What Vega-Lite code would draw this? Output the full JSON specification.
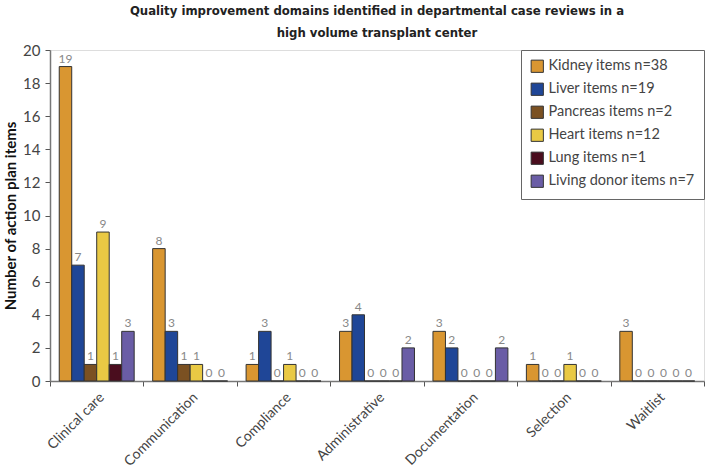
{
  "$schema": "https://vega.github.io/schema/vega-lite/v6.json",
  "width": 654,
  "height": 331,
  "autosize": {"type": "none"},
  "padding": {"left": 50, "top": 50, "right": 1, "bottom": 90},
  "background": "white",
  "title": {
    "text": ["Quality improvement domains identified in departmental case reviews in a", "high volume transplant center"],
    "anchor": "middle",
    "frame": "group",
    "font": "'Liberation Sans Narrow', 'DejaVu Sans Condensed', sans-serif",
    "fontSize": 13,
    "fontWeight": "bold",
    "color": "#222",
    "lineHeight": 22,
    "offset": 3
  },
  "data": {
    "values": [
      {"domain": "Clinical care", "organ": "Kidney items n=38", "n": 19},
      {"domain": "Clinical care", "organ": "Liver items n=19", "n": 7},
      {"domain": "Clinical care", "organ": "Pancreas items n=2", "n": 1},
      {"domain": "Clinical care", "organ": "Heart items n=12", "n": 9},
      {"domain": "Clinical care", "organ": "Lung items n=1", "n": 1},
      {"domain": "Clinical care", "organ": "Living donor items n=7", "n": 3},
      {"domain": "Communication", "organ": "Kidney items n=38", "n": 8},
      {"domain": "Communication", "organ": "Liver items n=19", "n": 3},
      {"domain": "Communication", "organ": "Pancreas items n=2", "n": 1},
      {"domain": "Communication", "organ": "Heart items n=12", "n": 1},
      {"domain": "Communication", "organ": "Lung items n=1", "n": 0},
      {"domain": "Communication", "organ": "Living donor items n=7", "n": 0},
      {"domain": "Compliance", "organ": "Kidney items n=38", "n": 1},
      {"domain": "Compliance", "organ": "Liver items n=19", "n": 3},
      {"domain": "Compliance", "organ": "Pancreas items n=2", "n": 0},
      {"domain": "Compliance", "organ": "Heart items n=12", "n": 1},
      {"domain": "Compliance", "organ": "Lung items n=1", "n": 0},
      {"domain": "Compliance", "organ": "Living donor items n=7", "n": 0},
      {"domain": "Administrative", "organ": "Kidney items n=38", "n": 3},
      {"domain": "Administrative", "organ": "Liver items n=19", "n": 4},
      {"domain": "Administrative", "organ": "Pancreas items n=2", "n": 0},
      {"domain": "Administrative", "organ": "Heart items n=12", "n": 0},
      {"domain": "Administrative", "organ": "Lung items n=1", "n": 0},
      {"domain": "Administrative", "organ": "Living donor items n=7", "n": 2},
      {"domain": "Documentation", "organ": "Kidney items n=38", "n": 3},
      {"domain": "Documentation", "organ": "Liver items n=19", "n": 2},
      {"domain": "Documentation", "organ": "Pancreas items n=2", "n": 0},
      {"domain": "Documentation", "organ": "Heart items n=12", "n": 0},
      {"domain": "Documentation", "organ": "Lung items n=1", "n": 0},
      {"domain": "Documentation", "organ": "Living donor items n=7", "n": 2},
      {"domain": "Selection", "organ": "Kidney items n=38", "n": 1},
      {"domain": "Selection", "organ": "Liver items n=19", "n": 0},
      {"domain": "Selection", "organ": "Pancreas items n=2", "n": 0},
      {"domain": "Selection", "organ": "Heart items n=12", "n": 1},
      {"domain": "Selection", "organ": "Lung items n=1", "n": 0},
      {"domain": "Selection", "organ": "Living donor items n=7", "n": 0},
      {"domain": "Waitlist", "organ": "Kidney items n=38", "n": 3},
      {"domain": "Waitlist", "organ": "Liver items n=19", "n": 0},
      {"domain": "Waitlist", "organ": "Pancreas items n=2", "n": 0},
      {"domain": "Waitlist", "organ": "Heart items n=12", "n": 0},
      {"domain": "Waitlist", "organ": "Lung items n=1", "n": 0},
      {"domain": "Waitlist", "organ": "Living donor items n=7", "n": 0}
    ]
  },
  "encoding": {
    "x": {
      "field": "domain",
      "type": "nominal",
      "sort": ["Clinical care", "Communication", "Compliance", "Administrative", "Documentation", "Selection", "Waitlist"],
      "scale": {"paddingInner": 0, "paddingOuter": 0},
      "axis": {
        "title": null,
        "labelAngle": -45,
        "labelAlign": "right",
        "labelBaseline": "top",
        "labelFont": "Lato",
        "labelFontWeight": "normal",
        "labelFontSize": 14,
        "labelColor": "#444",
        "labelPadding": 4,
        "tickBand": "extent",
        "tickSize": 5,
        "tickColor": "#555",
        "domainColor": "#777",
        "domainWidth": 1.5,
        "grid": false
      }
    },
    "xOffset": {
      "field": "organ",
      "type": "nominal",
      "sort": ["Kidney items n=38", "Liver items n=19", "Pancreas items n=2", "Heart items n=12", "Lung items n=1", "Living donor items n=7"],
      "scale": {"paddingInner": 0, "paddingOuter": 0.74}
    },
    "y": {
      "field": "n",
      "type": "quantitative",
      "scale": {"domain": [0, 20]},
      "axis": {
        "title": "Number of action plan items",
        "titleFont": "Lato",
        "titleFontSize": 15,
        "titleFontWeight": "bold",
        "titleColor": "#111",
        "titlePadding": 4,
        "values": [0, 2, 4, 6, 8, 10, 12, 14, 16, 18, 20],
        "labelFont": "Lato",
        "labelFontWeight": "normal",
        "labelFontSize": 15,
        "labelColor": "#444",
        "labelPadding": 5,
        "tickSize": 5,
        "tickColor": "#555",
        "domainColor": "#777",
        "domainWidth": 1.5,
        "grid": false
      }
    }
  },
  "layer": [
    {
      "mark": {"type": "bar", "stroke": "#333", "strokeWidth": 1},
      "encoding": {
        "color": {
          "field": "organ",
          "type": "nominal",
          "sort": ["Kidney items n=38", "Liver items n=19", "Pancreas items n=2", "Heart items n=12", "Lung items n=1", "Living donor items n=7"],
          "scale": {
            "domain": ["Kidney items n=38", "Liver items n=19", "Pancreas items n=2", "Heart items n=12", "Lung items n=1", "Living donor items n=7"],
            "range": ["#D99631", "#1F4697", "#7B5122", "#E9C944", "#4A0D1E", "#6A5DA6"]
          },
          "legend": {
            "title": null,
            "orient": "top-right",
            "offset": 0,
            "padding": 9,
            "strokeColor": "#666",
            "fillColor": "white",
            "symbolType": "square",
            "symbolSize": 150,
            "symbolStrokeColor": "#333",
            "symbolStrokeWidth": 1,
            "symbolOpacity": 1,
            "labelFont": "Lato",
            "labelFontWeight": "normal",
            "labelFontSize": 14.5,
            "labelColor": "#444",
            "labelLimit": 300,
            "rowPadding": 6,
            "labelOffset": 4
          }
        }
      }
    },
    {
      "mark": {"type": "text", "dy": -8, "font": "Lato", "fontWeight": "normal", "fontSize": 12, "color": "#888"},
      "encoding": {
        "text": {"field": "n", "type": "quantitative"}
      }
    }
  ]
}
